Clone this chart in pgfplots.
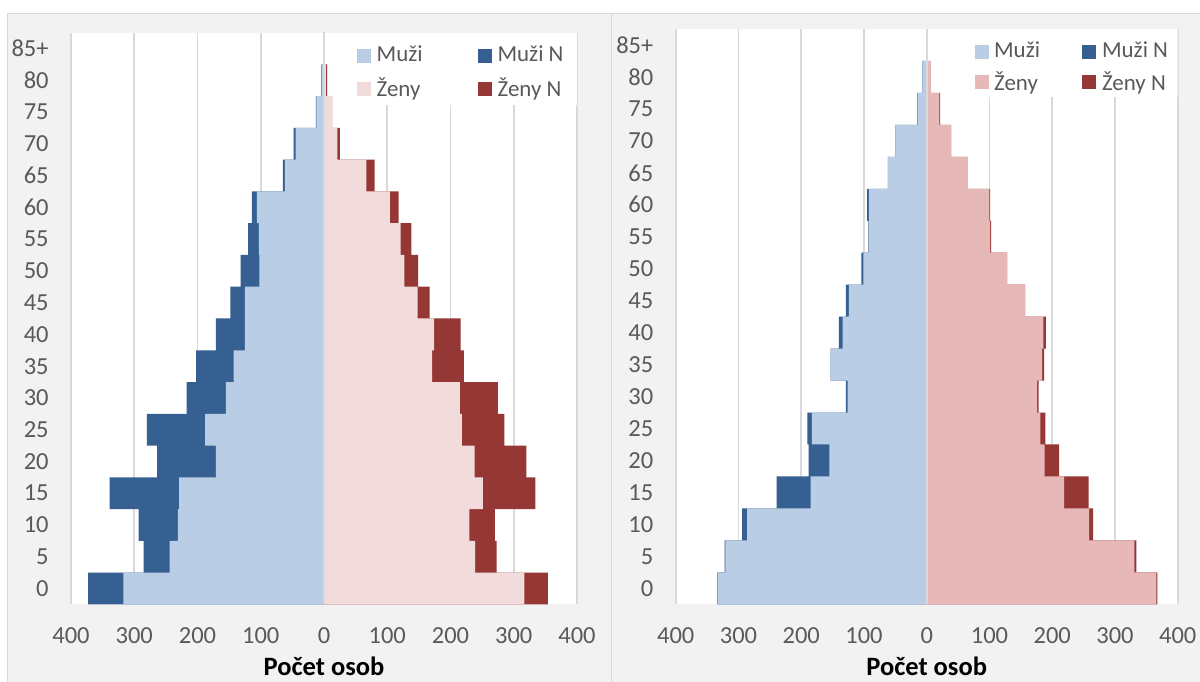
\documentclass[border=0pt]{standalone}
\usepackage{fontspec}
\setmainfont{Carlito}
\usepackage{pgfplots}
\pgfplotsset{compat=1.18}
\usepackage{pgfplotstable}

\definecolor{muzi}{HTML}{B9CDE5}
\definecolor{muzin}{HTML}{376092}
\definecolor{zenyA}{HTML}{F2DCDB}
\definecolor{zenyB}{HTML}{E6B8B7}
\definecolor{zenyn}{HTML}{953735}
\definecolor{gridc}{HTML}{D9D9D9}
\definecolor{panel}{HTML}{F2F2F2}
\definecolor{txt}{HTML}{595959}

% i = age group (0 = 0-4, ..., 17 = 85+); m/f base, mn/fn added part
\pgfplotstableread{
i  m    mn   f    fn
0  317  56   317  37
1  244  41   239  34
2  231  62   230  40
3  229  110  251  83
4  171  93   238  82
5  188  92   218  67
6  155  62   215  60
7  143  59   171  50
8  125  46   174  42
9  125  23   148  19
10 102  30   127  22
11 103  17   121  17
12 106  8    104  14
13 62   3    67   13
14 45   3    21   4
15 12   1    13   0
16 3    1    3    2
17 0.5  0    1    0
}\leva

\pgfplotstableread{
i  m    mn   f    fn
0  333  0.5  366  1.5
1  321  1    331  3
2  286  8    259  6
3  185  54   219  39
4  155  33   188  23
5  183  7    181  8
6  126  3    176  2.5
7  153  0    184  3
8  134  6    186  4
9  124  5    157  0
10 101  3    128  0
11 92   1    101  1.5
12 92   3    100  1
13 62   0    65   0
14 50   0    39   0
15 14   1    20   1.5
16 7    0    6    0
17 0    0    0    0
}\prava

\pgfplotsset{pyr/.style={
  scale only axis, xbar, bar width=1, bar shift=0,
  xmin=-400, xmax=400, ymin=-0.5, ymax=17.5,
  xtick={-400,-300,...,400},
  xticklabels={400,300,200,100,0,100,200,300,400},
  ytick={0,1,...,17},
  yticklabels={0,5,10,15,20,25,30,35,40,45,50,55,60,65,70,75,80,85+},
  axis background/.style={fill=white},
  axis line style={draw=none}, major tick length=0pt,
  xmajorgrids, major grid style={gridc, line width=0.9bp},
  /pgf/number format/assume math mode=true,
  tick label style={font=\fontsize{12.3}{14}\selectfont, text=txt},
  xticklabel style={anchor=base, yshift=-19.6bp},
  yticklabel style={anchor=east, inner xsep=0pt, xshift=-11bp},
  xlabel={\textbf{Počet osob}},
  xlabel style={at={(axis description cs:0.5,0)}, anchor=base, yshift=-35.4bp,
    font=\fontsize{13.3}{15}\selectfont, text=black},
  legend columns=2, legend cell align=left,
  legend image code/.code={\fill[##1, draw=none] (0bp,-3.5bp) rectangle (7bp,3.5bp);},
  legend style={draw=none, fill=none, inner sep=0pt, anchor=north west,
    font=\fontsize{11.5}{13}\selectfont, text=txt,
    nodes={inner xsep=2.8bp, inner ysep=0pt}},
}}

\begin{document}
\begin{tikzpicture}
\fill[white] (0,0) rectangle (600bp,341bp);
\useasboundingbox (0,0) rectangle (600bp,341bp);
\filldraw[fill=panel, draw=gridc, line width=0.75bp] (3.8bp,-5bp) rectangle (305.75bp,334.3bp);
\filldraw[fill=panel, draw=gridc, line width=0.75bp] (305.75bp,-5bp) rectangle (610bp,334.3bp);

% left pyramid
\begin{axis}[pyr, at={(35.5bp,38.85bp)}, anchor=south west,
  width=253bp, height=285.8bp,
  legend style={at={(0.5646,0.9772)}, row sep=6.4bp,
    /tikz/every even column/.append style={column sep=24.9bp}}]
\fill[white] (axis cs:6,15.22) rectangle (axis cs:400,17.5);
\addplot[fill=muzin, draw=none, forget plot] table[y=i, x expr=-\thisrow{m}-\thisrow{mn}] {\leva};
\addplot[fill=muzi, draw=none, forget plot] table[y=i, x expr=-\thisrow{m}] {\leva};
\addplot[fill=zenyn, draw=none, forget plot] table[y=i, x expr=\thisrow{f}+\thisrow{fn}] {\leva};
\addplot[fill=zenyA, draw=none, forget plot] table[y=i, x=f] {\leva};
\draw[gridc, line width=0.9bp] (axis cs:0,-0.5) -- (axis cs:0,17.5);
\addlegendimage{fill=muzi}
\addlegendimage{fill=muzin}
\addlegendimage{fill=zenyA}
\addlegendimage{fill=zenyn}
\legend{Muži, Muži N, Ženy, Ženy N}
\end{axis}

% right pyramid
\begin{axis}[pyr, at={(337.85bp,38.85bp)}, anchor=south west,
  width=251bp, height=287.65bp,
  legend style={at={(0.5945,0.9778)}, row sep=5.2bp,
    /tikz/every even column/.append style={column sep=18.4bp}}]
\fill[white] (axis cs:5.6,15.375) rectangle (axis cs:400,17.5);
\addplot[fill=muzin, draw=none, forget plot] table[y=i, x expr=-\thisrow{m}-\thisrow{mn}] {\prava};
\addplot[fill=muzi, draw=none, forget plot] table[y=i, x expr=-\thisrow{m}] {\prava};
\addplot[fill=zenyn, draw=none, forget plot] table[y=i, x expr=\thisrow{f}+\thisrow{fn}] {\prava};
\addplot[fill=zenyB, draw=none, forget plot] table[y=i, x=f] {\prava};
\draw[gridc, line width=0.9bp] (axis cs:0,-0.5) -- (axis cs:0,17.5);
\addlegendimage{fill=muzi}
\addlegendimage{fill=muzin}
\addlegendimage{fill=zenyB}
\addlegendimage{fill=zenyn}
\legend{Muži, Muži N, Ženy, Ženy N}
\end{axis}
\end{tikzpicture}
\end{document}
